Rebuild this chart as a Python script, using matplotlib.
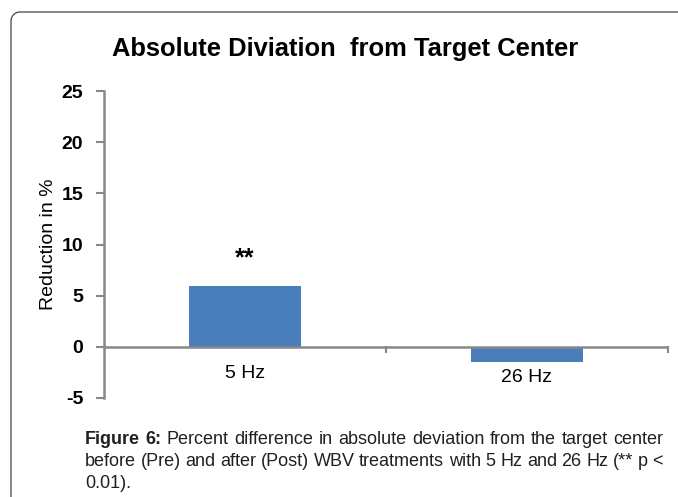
import numpy as np
import matplotlib.pyplot as plt
from matplotlib.lines import Line2D

plt.rcParams['font.family'] = ['Liberation Sans', 'DejaVu Sans']

# data
categories = ['5 Hz', '26 Hz']
reduction = [5.9, -1.45]
marks = ['**', '']
yticks = [-5, 0, 5, 10, 15, 20, 25]

W, H = 678, 497
fig = plt.figure(figsize=(W / 100, H / 100), dpi=100)

# frame: left edge, rounded top-left corner, top edge (pixel coords, y down)
r = 9
left, top = 11, 12
t = np.linspace(np.pi, np.pi / 2, 20)
fx = np.concatenate([[left], left + r + r * np.cos(t), [W + 5]])
fy = np.concatenate([[H + 5], top + r - r * np.sin(t), [top]])
fig.add_artist(Line2D(fx / W, 1 - fy / H, transform=fig.transFigure,
                      color='#555555', linewidth=1.0, clip_on=False))

ax = fig.add_axes([104 / W, 1 - 398 / H, (668 - 104) / W, (398 - 91) / H])

x = range(len(categories))
ax.bar(x, reduction, width=0.4, color='#4a7ebb', zorder=2)
ax.set_xlim(-0.5, len(categories) - 0.5)
ax.set_ylim(-5, 25)

for i, m in enumerate(marks):
    if m:
        ax.text(i, reduction[i] + 2.1, m, ha='center', va='baseline',
                fontsize=18, fontweight='bold')

ax.set_yticks(yticks)
ax.set_yticklabels([str(v) for v in yticks], fontsize=14, fontweight='bold')
ax.tick_params(axis='y', length=6, width=1.5, color='#888888', pad=9)

for s in ['top', 'right', 'bottom']:
    ax.spines[s].set_visible(False)
ax.spines['left'].set_color('#888888')
ax.spines['left'].set_linewidth(1.8)

# category axis at zero
ax.axhline(0, color='#888888', linewidth=1.8, zorder=3)
ax.set_xticks([])
for b in [0.5, 1.5]:
    ax.plot([b, b], [0, -0.55], color='#888888', linewidth=1.5, clip_on=False, zorder=3)
label_y = [-2.6, -2.95]
for i, c in enumerate(categories):
    ax.text(i, label_y[i], c, ha='center', va='center', fontsize=14)

ax.set_ylabel('Reduction in %', fontsize=14, labelpad=3)

fig.text(345 / W, 1 - 49 / H, 'Absolute Diviation  from Target Center',
         ha='center', va='center', fontsize=18.4, fontweight='bold')

# caption, justified between x=85 and x=663
cap_left, cap_right = 85, 663
cap_size = 13
cap_lines = [
    [('Figure', True), ('6:', True), ('Percent', False), ('difference', False), ('in', False),
     ('absolute', False), ('deviation', False), ('from', False), ('the', False),
     ('target', False), ('center', False)],
    [(w, False) for w in 'before (Pre) and after (Post) WBV treatments with 5 Hz and 26 Hz (** p <'.split()],
    [('0.01).', False)],
]
cap_y = [440, 462, 483]
fig.canvas.draw()
rend = fig.canvas.get_renderer()
for li, words in enumerate(cap_lines):
    ts = []
    for w, b in words:
        txt = fig.text(0, 1 - cap_y[li] / H, w, ha='left', va='center', fontsize=cap_size,
                       fontweight='bold' if b else 'normal', color='#231f20')
        ts.append(txt)
    widths = [txt.get_window_extent(rend).width for txt in ts]
    if li < len(cap_lines) - 1:
        gap = (cap_right - cap_left - sum(widths)) / (len(ts) - 1)
    else:
        gap = 4
    xpos = cap_left
    for txt, wd in zip(ts, widths):
        txt.set_x(xpos / W)
        xpos += wd + gap

fig.savefig('out.png', dpi=100)
